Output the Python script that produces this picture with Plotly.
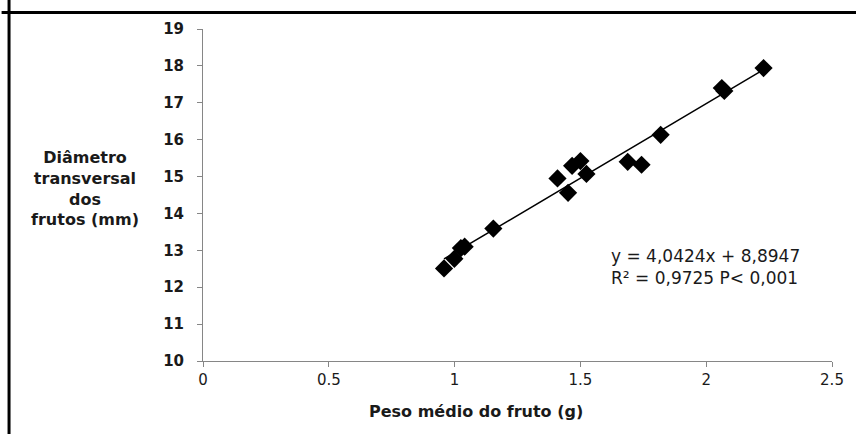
import plotly.graph_objects as go

peso = [0.958, 0.999, 1.025, 1.040, 1.154, 1.409, 1.451, 1.467, 1.500, 1.524,
        1.688, 1.743, 1.819, 2.062, 2.072, 2.228]
diametro = [12.51, 12.77, 13.06, 13.10, 13.59, 14.95, 14.56, 15.29, 15.42, 15.07,
            15.40, 15.32, 16.13, 17.40, 17.32, 17.94]
slope, intercept = 4.0424, 8.8947
x_ticks = [0, 0.5, 1, 1.5, 2, 2.5]
y_ticks = list(range(10, 20))

font = "DejaVu Sans, sans-serif"
tc = "#1a1a1a"

fig = go.Figure()
xl = [min(peso), max(peso)]
fig.add_trace(go.Scatter(x=xl, y=[slope * v + intercept for v in xl], mode="lines",
                         line=dict(color="black", width=1.5), showlegend=False))
fig.add_trace(go.Scatter(x=peso, y=diametro, mode="markers",
                         marker=dict(symbol="diamond", size=14, color="black"),
                         showlegend=False))

fig.update_layout(
    width=856, height=434,
    margin=dict(l=203, r=19, t=29, b=73),
    plot_bgcolor="white", paper_bgcolor="white",
    font=dict(family=font, color=tc),
    xaxis=dict(range=[0, 2.5], tickvals=x_ticks, ticktext=[str(v) for v in x_ticks],
               showgrid=False, zeroline=False, showline=True, linecolor="#868686",
               linewidth=1, ticks="outside", ticklen=5, tickcolor="#868686",
               tickfont=dict(size=15, family=font, color=tc)),
    yaxis=dict(range=[10, 19], tickvals=y_ticks,
               ticktext=["<b>%d</b>" % v for v in y_ticks],
               showgrid=False, zeroline=False, showline=True, linecolor="#868686",
               linewidth=1, ticks="outside", ticklen=5, tickcolor="#868686",
               ticklabelstandoff=10,
               tickfont=dict(size=15, family=font, color=tc)),
    shapes=[
        dict(type="line", xref="paper", yref="paper", x0=-203/634, x1=1.04,
             y0=(434-12.5-73)/332, y1=(434-12.5-73)/332, line=dict(color="black", width=3)),
        dict(type="line", xref="paper", yref="paper", x0=(7.5-203)/634, x1=(7.5-203)/634,
             y0=-0.25, y1=1.1, line=dict(color="black", width=3)),
    ],
    annotations=[
        dict(text="<b>Diâmetro<br>transversal<br>dos<br>frutos (mm)</b>", xref="paper", yref="paper",
             x=(84-203)/634, y=(361-188)/332, showarrow=False, align="center",
             font=dict(size=16, family=font, color=tc), xanchor="center", yanchor="middle"),
        dict(text="<b>Peso médio do fruto (g)</b>", xref="paper", yref="paper",
             x=(478-203)/634, y=(361-412)/332, showarrow=False,
             font=dict(size=16, family=font, color=tc), xanchor="center", yanchor="middle"),
        dict(text="y = 4,0424x + 8,8947<br>R² = 0,9725 P< 0,001", xref="paper", yref="paper",
             x=(612-203)/634, y=(361-267)/332, showarrow=False, align="left",
             font=dict(size=17, family=font, color=tc), xanchor="left", yanchor="middle"),
    ],
)
fig.write_html("out.html")
